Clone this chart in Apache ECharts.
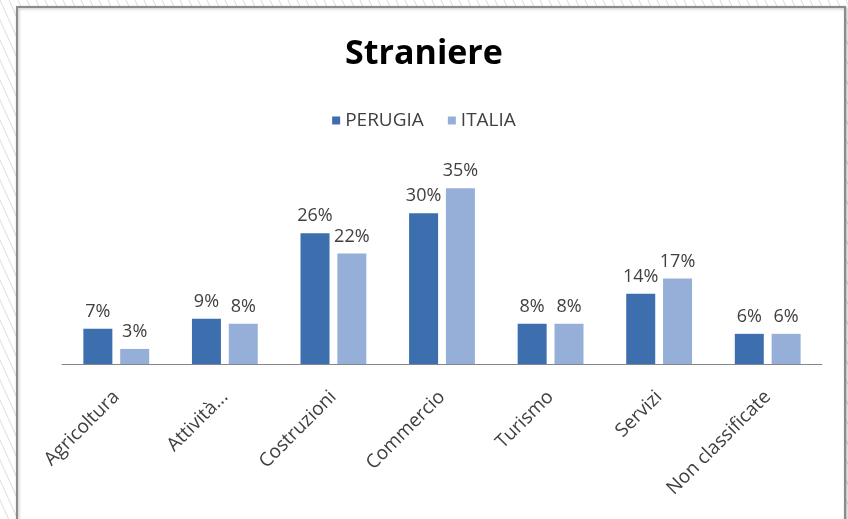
<!DOCTYPE html>
<html>
<head>
<meta charset="utf-8">
<script src="https://cdn.jsdelivr.net/npm/echarts@6/dist/echarts.min.js"></script>
<style>
  html, body { margin: 0; padding: 0; background: #fff; }
  #chart { width: 848px; height: 519px; }
</style>
</head>
<body>
<div id="chart"></div>
<script>
// Categories and shares (%) of foreign women employed by sector
const categories = ['Agricoltura', 'Attività...', 'Costruzioni', 'Commercio', 'Turismo', 'Servizi', 'Non classificate'];
const perugia = [7, 9, 26, 30, 8, 14, 6];
const italia  = [3, 8, 22, 35, 8, 17, 6];
const seriesNames = ['PERUGIA', 'ITALIA'];
const titleText = 'Straniere';

// Diagonal hatch tile for the area around the chart frame
function hatchTile() {
  const c = document.createElement('canvas');
  const w = 9, h = 20;
  c.width = w; c.height = h;
  const g = c.getContext('2d');
  g.strokeStyle = '#dcdcdc';
  g.lineWidth = 1;
  [-w, 0, w].forEach(function (x0) {
    g.beginPath();
    g.moveTo(x0, 0);
    g.lineTo(x0 + w, h);
    g.stroke();
  });
  return c;
}

const chart = echarts.init(document.getElementById('chart'), null, { renderer: 'canvas' });
const font = "'Open Sans', sans-serif";
const textColor = '#404040';

chart.setOption({
  animation: false,
  backgroundColor: '#ffffff',
  graphic: [
    {
      type: 'rect', z: -10, silent: true,
      shape: { x: 0, y: 0, width: 848, height: 519 },
      style: { fill: { image: hatchTile(), repeat: 'repeat' } }
    },
    {
      type: 'rect', z: -9, silent: true,
      shape: { x: 17, y: 7, width: 828, height: 530 },
      style: {
        fill: '#ffffff', stroke: '#8c8c8c', lineWidth: 2,
        shadowColor: 'rgba(0,0,0,0.25)', shadowBlur: 3, shadowOffsetX: 1, shadowOffsetY: 1
      }
    }
  ],
  title: {
    text: titleText,
    left: 'center',
    top: 32,
    textStyle: { fontFamily: font, fontSize: 34, fontWeight: 'bold', color: '#000' }
  },
  legend: {
    data: seriesNames,
    top: 106,
    left: 'center',
    icon: 'rect',
    itemWidth: 8,
    itemHeight: 8,
    itemGap: 24,
    textStyle: { fontFamily: font, fontSize: 19, color: textColor }
  },
  grid: { left: 62, right: 26, top: 163, bottom: 155 },
  xAxis: {
    type: 'category',
    data: categories,
    axisLine: { lineStyle: { color: '#868686', width: 1 } },
    axisTick: { show: false },
    axisLabel: {
      rotate: 45,
      interval: 0,
      margin: 30,
      fontFamily: font,
      fontSize: 19,
      color: textColor
    }
  },
  yAxis: {
    type: 'value',
    min: 0,
    max: 40,
    show: false,
    splitLine: { show: false }
  },
  series: [
    {
      name: seriesNames[0],
      type: 'bar',
      data: perugia,
      barWidth: 29,
      barGap: '27%',
      itemStyle: { color: '#3d6fae' },
      label: {
        show: true, position: 'top', distance: 8,
        formatter: '{c}%', fontFamily: font, fontSize: 18, color: textColor
      }
    },
    {
      name: seriesNames[1],
      type: 'bar',
      data: italia,
      barWidth: 29,
      itemStyle: { color: '#95afd8' },
      label: {
        show: true, position: 'top', distance: 8,
        formatter: '{c}%', fontFamily: font, fontSize: 18, color: textColor
      }
    }
  ]
});
</script>
</body>
</html>
